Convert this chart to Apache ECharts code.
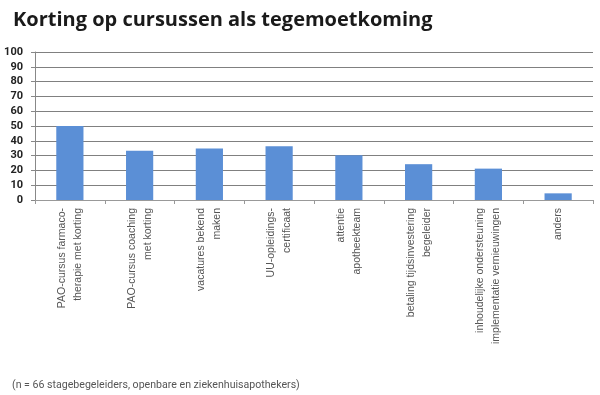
<!DOCTYPE html>
<html><head><meta charset="utf-8">
<script src="https://cdn.jsdelivr.net/npm/echarts@6/dist/echarts.min.js"></script>
<style>html,body{margin:0;padding:0;background:#fff}#c{width:600px;height:395px}</style>
</head><body><div id="c"></div>
<script>
const titleText = 'Korting op cursussen als tegemoetkoming';
const footnote = '(n = 66 stagebegeleiders, openbare en ziekenhuisapothekers)';
const categories = [
  'PAO-cursus farmaco-\ntherapie met korting',
  'PAO-cursus coaching\nmet korting',
  'vacatures bekend\nmaken',
  'UU-opleidings-\ncertificaat',
  'attentie\napotheekteam',
  'betaling tijdsinvestering\nbegeleider',
  'inhoudelijke ondersteuning\nimplementatie vernieuwingen',
  'anders'
];
const values = [50, 33.3, 34.8, 36.4, 30.3, 24.2, 21.2, 4.5];
const yTicks = [0, 10, 20, 30, 40, 50, 60, 70, 80, 90, 100];

const chart = echarts.init(document.getElementById('c'), null, {renderer: 'canvas'});
chart.setOption({
  animation: false,
  backgroundColor: '#fff',
  title: [
    {text: titleText, left: 8, top: 5, textStyle: {fontFamily: 'Open Sans', fontWeight: 'bold', fontSize: 20, color: '#1a1a1a'}},
    {text: footnote, left: 7, top: 375, textStyle: {fontFamily: 'Roboto', fontWeight: 'normal', fontSize: 10.6, color: '#555'}}
  ],
  grid: {left: 35, top: 52, width: 558, height: 148, containLabel: false},
  xAxis: {
    type: 'category',
    data: categories,
    axisLine: {lineStyle: {color: '#999', width: 1}},
    axisTick: {show: true, alignWithLabel: false, length: 4, lineStyle: {color: '#999'}},
    axisLabel: {rotate: 90, interval: 0, margin: 8, fontFamily: 'Liberation Sans', fontSize: 10.5, color: '#555', lineHeight: 16, align: 'right'}
  },
  yAxis: {
    type: 'value',
    min: yTicks[0], max: yTicks[yTicks.length - 1], interval: 10,
    axisLine: {show: true, lineStyle: {color: '#888'}},
    axisTick: {show: true, length: 4, lineStyle: {color: '#888'}},
    splitLine: {lineStyle: {color: '#808080', width: 1}},
    axisLabel: {margin: 12, fontFamily: 'Roboto', fontWeight: 'bold', fontSize: 11, color: '#222'}
  },
  series: [{
    type: 'bar',
    data: values,
    barWidth: '39%',
    itemStyle: {color: '#5b8fd6'}
  }]
});
</script></body></html>
